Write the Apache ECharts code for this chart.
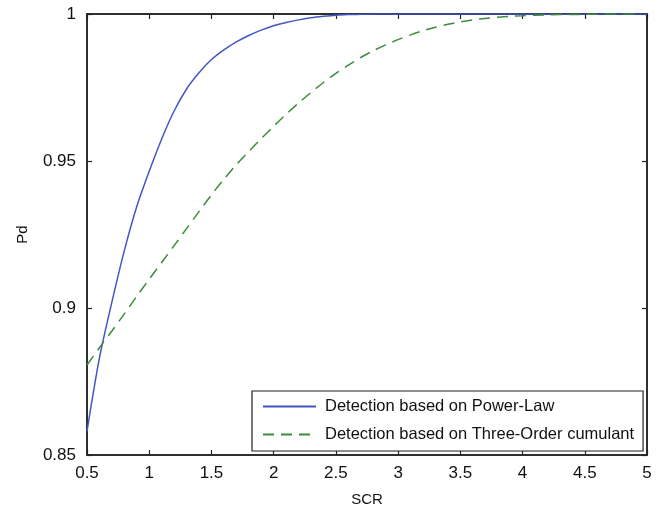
<!DOCTYPE html>
<html>
<head>
<meta charset="utf-8">
<script src="https://cdn.jsdelivr.net/npm/echarts@6/dist/echarts.min.js"></script>
<style>html,body{margin:0;padding:0;background:#fff}#c{width:662px;height:515px}</style>
</head>
<body>
<div id="c"></div>
<script>
const scr = [0.5,0.6,0.7,0.8,0.9,1.0,1.1,1.2,1.3,1.4,1.5,1.6,1.7,1.8,1.9,2.0,2.1,2.2,2.3,2.4,2.5,2.6,2.7,2.8,2.9,3.0,3.1,3.2,3.3,3.4,3.5,3.6,3.7,3.8,3.9,4.0,4.1,4.2,4.3,4.4,4.5,4.6,4.7,4.8,4.9,5.0];
const powerLaw = [0.858,0.883,0.902,0.9195,0.9345,0.9465,0.9575,0.9670,0.9745,0.9800,0.9845,0.9878,0.9905,0.9927,0.9945,0.9960,0.9971,0.9980,0.9987,0.9992,0.9996,0.9998,0.9999,1,1,1,1,1,1,1,1,1,1,1,1,1,1,1,1,1,1,1,1,1,1,1];
const threeOrder = [0.8806,0.8865,0.8922,0.898,0.904,0.9098,0.9155,0.9212,0.927,0.9328,0.9385,0.9438,0.9487,0.9532,0.9576,0.9618,0.9659,0.9697,0.9733,0.9767,0.9798,0.9826,0.9852,0.9875,0.9895,0.9913,0.9929,0.9943,0.9955,0.9965,0.9973,0.9980,0.9985,0.9989,0.9992,0.9994,0.9996,0.9997,0.9998,0.9998,0.9999,0.9999,1,1,1];
const seriesNames = ['Detection based on Power-Law','Detection based on Three-Order cumulant'];
const xTitle = 'SCR';
const yTitle = 'Pd';

const font = 'Liberation Sans, Arial, sans-serif';
const chart = echarts.init(document.getElementById('c'), null, {renderer:'canvas'});
const tickStyle = {show:true, inside:true, length:5, lineStyle:{color:'#222', width:1.2}};
chart.setOption({
  animation:false,
  backgroundColor:'#fff',
  grid:{left:87, right:15, top:14, bottom:60, show:true, borderColor:'#222', borderWidth:1.5, containLabel:false},
  legend:{
    orient:'vertical', left:252, top:391,
    backgroundColor:'#fff', borderColor:'#222', borderWidth:1.2, borderRadius:0,
    padding:[7,9,8,10], itemGap:11, itemWidth:53, itemHeight:14,
    itemStyle:{opacity:0, borderWidth:0},
    textStyle:{fontFamily:font, fontSize:16.5, color:'#111', padding:[0,0,0,4]},
    data: seriesNames
  },
  xAxis:[{
    type:'value', min:0.5, max:5, interval:0.5, position:'bottom',
    name:xTitle, nameLocation:'middle', nameGap:37,
    nameTextStyle:{fontFamily:font, fontSize:15, color:'#111'},
    axisLine:{show:true, lineStyle:{color:'#222', width:1.5}},
    axisTick:tickStyle, splitLine:{show:false},
    axisLabel:{fontFamily:font, fontSize:17, color:'#111', margin:10}
  },{
    type:'value', min:0.5, max:5, interval:0.5, position:'top',
    axisLine:{show:true, lineStyle:{color:'#222', width:1.5}},
    axisTick:tickStyle, axisLabel:{show:false}, splitLine:{show:false}
  }],
  yAxis:[{
    type:'value', min:0.85, max:1, interval:0.05, position:'left',
    name:yTitle, nameLocation:'middle', nameGap:57, nameRotate:90,
    nameTextStyle:{fontFamily:font, fontSize:15, color:'#111'},
    axisLine:{show:true, lineStyle:{color:'#222', width:1.5}},
    axisTick:tickStyle, splitLine:{show:false},
    axisLabel:{fontFamily:font, fontSize:17, color:'#111', margin:11,
      formatter:v=>String(+v.toFixed(2))}
  },{
    type:'value', min:0.85, max:1, interval:0.05, position:'right',
    axisLine:{show:true, lineStyle:{color:'#222', width:1.5}},
    axisTick:tickStyle, axisLabel:{show:false}, splitLine:{show:false}
  }],
  series:[{
    name:seriesNames[0], type:'line', showSymbol:false, symbol:'none',
    data: scr.map((x,i)=>[x, powerLaw[i]]),
    lineStyle:{color:'#4257c4', width:1.5}, itemStyle:{color:'#4257c4'}, smooth:0.3
  },{
    name:seriesNames[1], type:'line', showSymbol:false, symbol:'none',
    data: threeOrder.map((y,i)=>[scr[i], y]),
    lineStyle:{color:'#3c8c3c', width:1.5, type:[11,7]}, itemStyle:{color:'#3c8c3c'}, smooth:0.3
  }]
});
</script>
</body>
</html>
